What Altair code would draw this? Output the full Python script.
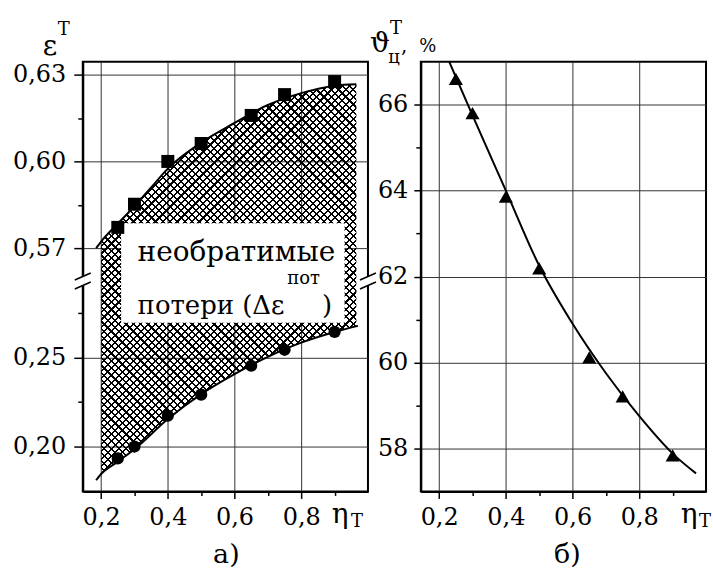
import altair as alt
import pandas as pd

FONT = "DejaVu Serif"

# ---------------- data ----------------
eta_pts = [0.25, 0.30, 0.40, 0.50, 0.65, 0.75, 0.90]
eps_upper_pts = [0.5772, 0.5852, 0.6000, 0.6062, 0.6159, 0.6231, 0.6276]
eps_lower_pts = [0.1933, 0.2000, 0.2174, 0.2292, 0.2455, 0.2545, 0.2646]
theta_pts = [66.60, 65.80, 63.86, 62.19, 60.12, 59.21, 57.84]

upper_curve_x = [0.185, 0.20, 0.25, 0.30, 0.35, 0.40, 0.50, 0.60, 0.70, 0.80, 0.90, 0.965]
upper_curve_y = [0.5700, 0.5723, 0.5785, 0.5845, 0.5910, 0.5975, 0.6065, 0.6133, 0.6195, 0.6236, 0.6262, 0.6267]
lower_curve_x = [0.185, 0.20, 0.25, 0.30, 0.40, 0.50, 0.60, 0.70, 0.80, 0.90, 0.97]
lower_curve_y = [0.1810, 0.1845, 0.1915, 0.1985, 0.2155, 0.2295, 0.2408, 0.2505, 0.2585, 0.2645, 0.2680]

fill_x = [0.20, 0.25, 0.30, 0.40, 0.50, 0.60, 0.70, 0.80, 0.90, 0.965]
fill_low = [0.1845, 0.1915, 0.1985, 0.2155, 0.2295, 0.2408, 0.2505, 0.2585, 0.2645, 0.2677]
fill_high = [0.5723, 0.5785, 0.5845, 0.5975, 0.6065, 0.6133, 0.6195, 0.6236, 0.6262, 0.6267]

theta_curve_x = [0.23, 0.30, 0.40, 0.50, 0.60, 0.70, 0.80, 0.90, 0.97]
theta_curve_y = [67.00, 65.75, 64.00, 62.25, 60.90, 59.75, 58.75, 57.88, 57.42]

x_ticks = [0.2, 0.3, 0.4, 0.5, 0.6, 0.7, 0.8, 0.9]
eps_ticks = [0.20, 0.225, 0.25, 0.275, 0.57, 0.585, 0.60, 0.615, 0.63]
theta_ticks = [58, 59, 60, 61, 62, 63, 64, 65, 66]

box_eta = [0.26, 0.93]
box_eps = [0.2697, 0.5786]

# ---------------- layout ----------------
W, H = 286, 431
BLACK = "black"
one = pd.DataFrame({"k": [0]})

x_scale = alt.Scale(domain=[0.145, 1.0], nice=False, zero=False)
eps_scale = alt.Scale(domain=[0.1747, 0.2938, 0.5590, 0.6345], range=[H, 219, 219, 0],
                      nice=False, zero=False)
theta_scale = alt.Scale(domain=[57, 67], nice=False, zero=False)

x_major = "round(datum.value*10) % 2 == 0"
eps_major = "round(datum.value*1000) % 10 == 0"
th_major = "datum.value % 2 == 0"


def x_axis():
    return alt.Axis(values=x_ticks, title=None,
                    labelExpr=f"{x_major} ? replace(format(datum.value, '.1f'), '.', ',') : ''",
                    tickSize={"condition": {"test": x_major, "value": 7}, "value": 4},
                    gridOpacity={"condition": {"test": x_major, "value": 1}, "value": 0},
                    labelPadding=7)


def hatch(x1, y1, x2, y2, n=88, frac=0.30):
    stops = []
    for i in range(n):
        a = round(i / n, 6)
        b = round((i + frac) / n, 6)
        c = round((i + 1) / n, 6)
        stops += [alt.GradientStop(color=BLACK, offset=a),
                  alt.GradientStop(color=BLACK, offset=b),
                  alt.GradientStop(color="rgba(255,255,255,0)", offset=b),
                  alt.GradientStop(color="rgba(255,255,255,0)", offset=c)]
    return alt.LinearGradient(gradient="linear", stops=stops, x1=x1, y1=y1, x2=x2, y2=y2)


def txt(text, x, y, size=28, align="center", baseline="middle"):
    return alt.Chart(one).mark_text(text=text, font=FONT, fontSize=size, color=BLACK,
                                    align=align, baseline=baseline).encode(
        x=alt.value(x), y=alt.value(y))


def rule(x1, y1, x2, y2, color=BLACK, width=1.5):
    return alt.Chart(one).mark_rule(color=color, strokeWidth=width).encode(
        x=alt.value(x1), y=alt.value(y1), x2=alt.value(x2), y2=alt.value(y2))


def anchor(x, y):
    return alt.Chart(one).mark_rect(opacity=0).encode(
        x=alt.value(x), x2=alt.value(x + 1), y=alt.value(y), y2=alt.value(y + 1))


# ---------------- panel a ----------------
fill_df = pd.DataFrame({"eta": fill_x, "lo": fill_low, "hi": fill_high})
up_df = pd.DataFrame({"eta": upper_curve_x, "eps": upper_curve_y})
lo_df = pd.DataFrame({"eta": lower_curve_x, "eps": lower_curve_y})
sq_df = pd.DataFrame({"eta": eta_pts, "eps": eps_upper_pts})
ci_df = pd.DataFrame({"eta": eta_pts, "eps": eps_lower_pts})
box_df = pd.DataFrame({"x0": [box_eta[0]], "x1": [box_eta[1]], "y0": [box_eps[0]], "y1": [box_eps[1]]})

left_y_axis = alt.Axis(values=eps_ticks, title=None,
                       labelExpr=f"{eps_major} ? replace(format(datum.value, '.2f'), '.', ',') : ''",
                       tickSize={"condition": {"test": eps_major, "value": 9}, "value": 5},
                       gridOpacity={"condition": {"test": eps_major, "value": 1}, "value": 0},
                       labelPadding=8)

base_fill = alt.Chart(fill_df).encode(
    x=alt.X("eta:Q", scale=x_scale, axis=x_axis()),
    y=alt.Y("lo:Q", scale=eps_scale, axis=left_y_axis),
    y2="hi:Q",
)
hatch1 = base_fill.mark_area(interpolate="monotone", color=hatch(0, 0, 0.758, 1.158))
hatch2 = base_fill.mark_area(interpolate="monotone", color=hatch(1, 0, 0.242, 1.158))

box = alt.Chart(box_df).mark_rect(color="white").encode(
    x="x0:Q", x2="x1:Q", y="y0:Q", y2="y1:Q")

up_line = alt.Chart(up_df).mark_line(color=BLACK, strokeWidth=2, interpolate="monotone").encode(
    x="eta:Q", y="eps:Q")
lo_line = alt.Chart(lo_df).mark_line(color=BLACK, strokeWidth=2, interpolate="monotone").encode(
    x="eta:Q", y="eps:Q")
squares = alt.Chart(sq_df).mark_point(shape="square", filled=True, color=BLACK, size=170, opacity=1).encode(
    x="eta:Q", y="eps:Q")
circles = alt.Chart(ci_df).mark_point(shape="circle", filled=True, color=BLACK, size=150, opacity=1).encode(
    x="eta:Q", y="eps:Q")

BY = 220
left_layers = [
    hatch1, hatch2, box,
    txt("необратимые", 55, 200, 28, "left", "alphabetic"),
    txt("потери (Δε", 55, 253, 26, "left", "alphabetic"),
    txt("пот", 205, 223, 18, "left", "alphabetic"),
    txt(")", 240, 253, 26, "left", "alphabetic"),
    up_line, lo_line, squares, circles,
    # axis break marks
    rule(0, BY - 5, 0, BY + 5, "white", 4),
    rule(-8, BY - 1, 8, BY - 8), rule(-8, BY + 8, 8, BY + 1),
    rule(W, BY - 5, W, BY + 5, "white", 4),
    rule(W - 8, BY - 1, W + 8, BY - 8), rule(W - 8, BY + 8, W + 8, BY + 1),
    # titles
    txt("ε", -33, -15, 28),
    txt("T", -19, -32, 18),
    txt("η", 258, 455, 28),
    txt("T", 275, 462, 18),
    txt("а)", 144, 495, 27),
    anchor(-82, -60),
]
left = alt.layer(*left_layers).properties(width=W, height=H)

# ---------------- panel b ----------------
th_df = pd.DataFrame({"eta": theta_curve_x, "th": theta_curve_y})
tri_df = pd.DataFrame({"eta": eta_pts, "th": theta_pts})

right_y_axis = alt.Axis(values=theta_ticks, title=None,
                        labelExpr=f"{th_major} ? format(datum.value, 'd') : ''",
                        tickSize={"condition": {"test": th_major, "value": 7}, "value": 5},
                        gridOpacity={"condition": {"test": th_major, "value": 1}, "value": 0},
                        labelPadding=6)

th_line = alt.Chart(th_df).mark_line(color=BLACK, strokeWidth=2, interpolate="monotone").encode(
    x=alt.X("eta:Q", scale=x_scale, axis=x_axis()),
    y=alt.Y("th:Q", scale=theta_scale, axis=right_y_axis))
tris = alt.Chart(tri_df).mark_point(shape="triangle-up", filled=True, color=BLACK, size=200, opacity=1).encode(
    x="eta:Q", y="th:Q")

right_layers = [
    th_line, tris,
    txt("ϑ", -41, -18, 28),
    txt("T", -25, -33, 18),
    txt("ц", -27, -4, 18),
    txt(",", -20, -10, 20, "left", "alphabetic"),
    txt("%", 7, -10, 18, "center", "alphabetic"),
    txt("η", 269, 455, 28),
    txt("T", 285, 462, 18),
    txt("б)", 147, 495, 27),
    anchor(713 - 421 - 1, 575 - 60 - 1),
]
right = alt.layer(*right_layers).properties(width=W, height=H)

chart = alt.hconcat(left, right, spacing=53, bounds="flush").properties(
    padding=0, background="white"
).configure_view(
    stroke=BLACK, strokeWidth=2
).configure_axis(
    domainColor=BLACK, domainWidth=2, tickColor=BLACK, tickWidth=1.5,
    gridColor="#333333", gridWidth=1,
    labelFont=FONT, labelFontSize=24, labelColor=BLACK,
    labelFlush=False, labelOverlap=False,
)

chart.save("out.html", embed_options={"renderer": "svg", "actions": False})
